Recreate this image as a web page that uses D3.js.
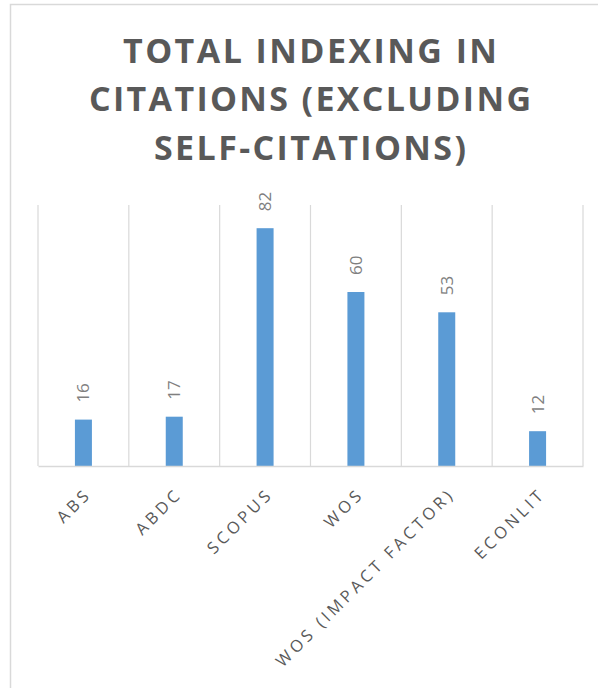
<!DOCTYPE html>
<html>
<head>
<meta charset="utf-8">
<script src="https://cdn.jsdelivr.net/npm/d3@7"></script>
<style>
  html, body { margin: 0; padding: 0; background: #fff; }
  svg { display: block; }
</style>
</head>
<body>
<script>
const titleLines = ["TOTAL INDEXING IN", "CITATIONS (EXCLUDING", "SELF-CITATIONS)"];
const categories = ["ABS", "ABDC", "SCOPUS", "WOS", "WOS (IMPACT FACTOR)", "ECONLIT"];
const values = [16, 17, 82, 60, 53, 12];
const yDomain = [0, 90];

const W = 598, H = 688;
const svg = d3.select("body").append("svg").attr("width", W).attr("height", H);

// chart border
svg.append("rect")
  .attr("x", 10.5).attr("y", 4.5).attr("width", 700).attr("height", 800)
  .attr("fill", "#fff").attr("stroke", "#d9d9d9").attr("stroke-width", 1.5);

// title
const titleWidths = [374, 442, 312];
svg.append("g").selectAll("text").data(titleLines).join("text")
  .attr("x", 310)
  .attr("y", (d, i) => 63 + i * 48.3)
  .attr("text-anchor", "middle")
  .attr("font-family", "'Open Sans', sans-serif")
  .attr("font-weight", 700)
  .attr("font-size", 34)
  .attr("fill", "#595959")
  .attr("textLength", (d, i) => titleWidths[i])
  .attr("lengthAdjust", "spacing")
  .text(d => d);

const plot = { left: 38, right: 583, top: 205, bottom: 466 };

const x = d3.scaleBand().domain(categories).range([plot.left, plot.right]).paddingInner(0).paddingOuter(0);
const y = d3.scaleLinear().domain(yDomain).range([plot.bottom, plot.top]);

// vertical gridlines at category boundaries
const bounds = categories.map(c => x(c)).concat([x.range()[1]]);
svg.append("g").selectAll("line").data(bounds).join("line")
  .attr("x1", d => d).attr("x2", d => d)
  .attr("y1", plot.top).attr("y2", plot.bottom)
  .attr("stroke", "#d9d9d9").attr("stroke-width", 1.2);

// bars
const barW = 17;
svg.append("g").selectAll("rect").data(values).join("rect")
  .attr("x", (d, i) => x(categories[i]) + x.bandwidth() / 2 - barW / 2)
  .attr("y", d => y(d))
  .attr("width", barW)
  .attr("height", d => y(0) - y(d))
  .attr("fill", "#5b9bd5");

// data labels (rotated)
svg.append("g").selectAll("text").data(values).join("text")
  .attr("transform", (d, i) => `translate(${x(categories[i]) + x.bandwidth() / 2 + 6},${y(d) - 17}) rotate(-90)`)
  .attr("text-anchor", "start")
  .attr("font-family", "'Open Sans', sans-serif")
  .attr("font-size", 17)
  .attr("fill", "#7f7f7f")
  .text(d => d);

// x axis
const xAxis = d3.axisBottom(x).tickSize(0).tickPadding(0);
const ax = svg.append("g").attr("transform", `translate(0,${plot.bottom})`).call(xAxis);
ax.attr("font-size", null).attr("font-family", null);
ax.select(".domain").attr("stroke", "#d9d9d9").attr("stroke-width", 1.5);
ax.selectAll(".tick text")
  .attr("font-family", "'Open Sans', sans-serif")
  .attr("font-size", 16.5)
  .attr("fill", "#595959")
  .attr("letter-spacing", 3.6)
  .attr("text-anchor", "end")
  .attr("y", 0)
  .attr("dy", 0)
  .attr("transform", "translate(9,29) rotate(-45)");
</script>
</body>
</html>
